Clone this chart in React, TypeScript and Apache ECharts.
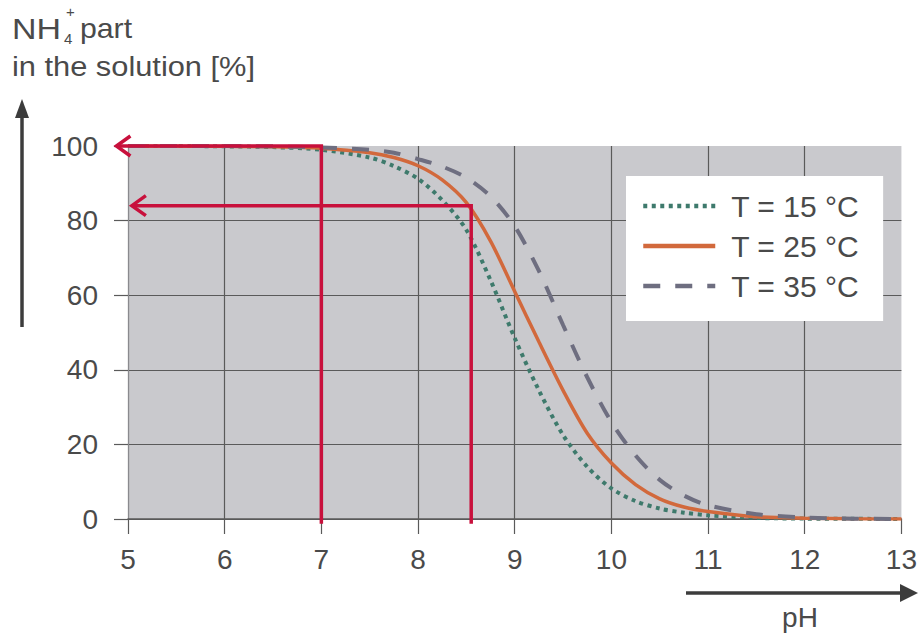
import React, { useEffect, useRef } from "react";
import * as echarts from "echarts";

// pH sample points shared by the three temperature curves
const pHValues = [5, 5.5, 6, 6.5, 7, 7.5, 7.75, 8, 8.25, 8.5, 8.75, 9, 9.25, 9.5, 9.75, 10, 10.25, 10.5, 10.75, 11, 11.5, 12, 12.5, 13];

// NH4+ share of total ammonia nitrogen [%]
const nh4At15 = [100, 100, 99.9, 99.7, 99.0, 96.9, 94.6, 91.2, 85.5, 77.5, 64, 48.5, 34.5, 22.5, 14, 8.2, 4.8, 2.8, 1.7, 1.0, 0.3, 0.1, 0.05, 0];
const nh4At25 = [100, 100, 99.9, 99.8, 99.4, 98.2, 96.9, 94.7, 90.9, 84.8, 74.5, 61, 47.5, 34.5, 23, 15, 9.2, 5.4, 3.2, 2.0, 0.6, 0.2, 0.05, 0];
const nh4At35 = [100, 100, 100, 99.9, 99.6, 99.0, 98.2, 96.5, 94.5, 91.5, 86.5, 78.5, 66.5, 52, 38, 26, 17, 10.5, 6.3, 3.7, 1.3, 0.4, 0.1, 0];

const seriesNames = ["T = 15 °C", "T = 25 °C", "T = 35 °C"];

// Read-off guides: [arrow tip pH, NH4+ level, pH of the vertical, bottom level]
const readoutGuides = [
  [4.88, 100, 7, -1.3],
  [5.04, 84, 8.55, -1.3],
];

// axis ranges and tick labels
const xTicks = [5, 6, 7, 8, 9, 10, 11, 12, 13];
const yTicks = [0, 20, 40, 60, 80, 100];

const FONT = "'Liberation Sans', Arial, Helvetica, sans-serif";
const TEXT = "#4a4a4a";
const GRID = "#5a5a5a";
const RED = "#c8103c";
const ARROW = "#3c3c3c";

const toPairs = (ys: number[]) => pHValues.map((x, i) => [x, ys[i]]);

const label = (text: string, x: number, y: number, size: number, scaleX = 1) => ({
  type: "text",
  x,
  y,
  scaleX,
  style: { text, font: `${size}px ${FONT}`, fill: TEXT, verticalAlign: "top" },
});

export default function App() {
  const ref = useRef<HTMLDivElement>(null);

  useEffect(() => {
    if (!ref.current) return;
    const chart = echarts.init(ref.current, undefined, { renderer: "svg" });

    const curve = (name: string, data: number[], color: string, type: any, width: number) => ({
      name,
      type: "line",
      data: toPairs(data),
      symbol: "none",
      smooth: 0.3,
      z: 3,
      lineStyle: { color, width, type, cap: "butt" },
      itemStyle: { color },
    });

    chart.setOption({
      animation: false,
      grid: {
        left: 128,
        top: 146,
        width: 774,
        height: 373,
        show: true,
        backgroundColor: "#c9c9cd",
        borderWidth: 0,
      },
      legend: {
        orient: "vertical",
        left: 626,
        top: 176,
        backgroundColor: "#ffffff",
        padding: [15, 24, 20, 15],
        itemWidth: 72,
        itemHeight: 20,
        itemGap: 10,
        data: seriesNames,
        itemStyle: { opacity: 0, borderWidth: 0 },
        lineStyle: { width: 4.5 },
        textStyle: { fontFamily: FONT, fontSize: 30, color: TEXT, padding: [0, 0, 0, 11] },
      },
      xAxis: {
        type: "value",
        min: xTicks[0],
        max: xTicks[xTicks.length - 1],
        interval: 1,
        axisLine: { show: true, lineStyle: { color: GRID, width: 1.5 } },
        axisTick: { show: true, inside: false, length: 15, lineStyle: { color: GRID, width: 1.2 } },
        axisLabel: { fontFamily: FONT, fontSize: 28, color: TEXT, margin: 26 },
        splitLine: { show: true, showMaxLine: false, lineStyle: { color: GRID, width: 1.2 } },
      },
      yAxis: {
        type: "value",
        min: yTicks[0],
        max: yTicks[yTicks.length - 1],
        interval: 20,
        axisLine: { show: true, lineStyle: { color: "#8a8a8e", width: 1 } },
        axisTick: { show: true, inside: false, length: 14, lineStyle: { color: GRID, width: 1.2 } },
        axisLabel: { fontFamily: FONT, fontSize: 28, color: TEXT, margin: 30 },
        splitLine: { show: true, showMaxLine: false, lineStyle: { color: GRID, width: 1.2 } },
      },
      series: [
        curve(seriesNames[0], nh4At15, "#3e7a6c", [4, 4.5], 4),
        curve(seriesNames[1], nh4At25, "#d2693c", "solid", 3.5),
        curve(seriesNames[2], nh4At35, "#6e6e80", [17, 15], 4),
        {
          type: "custom",
          name: "readout",
          clip: false,
          z: 5,
          data: readoutGuides,
          encode: { x: [0, 2], y: [1, 3] },
          renderItem: (_params: any, api: any) => {
            const tip = api.coord([api.value(0), api.value(1)]);
            const corner = api.coord([api.value(2), api.value(1)]);
            const bottom = api.coord([api.value(2), api.value(3)]);
            const style = { stroke: RED, lineWidth: 3.5, fill: null, lineJoin: "miter" };
            return {
              type: "group",
              children: [
                { type: "polyline", shape: { points: [tip, corner, bottom] }, style },
                {
                  type: "polyline",
                  shape: {
                    points: [
                      [tip[0] + 14, tip[1] - 10],
                      [tip[0], tip[1]],
                      [tip[0] + 14, tip[1] + 10],
                    ],
                  },
                  style,
                },
              ],
            };
          },
        },
      ],
      graphic: [
        // y-axis title
        label("NH", 12, 14, 29, 1.17),
        label("4", 64, 31, 15),
        label("+", 66, 4, 15),
        label("part", 80, 14, 28, 1.08),
        label("in the solution [%]", 12, 52, 28, 1.1),
        // upward arrow
        { type: "line", shape: { x1: 22, y1: 327, x2: 22, y2: 114 }, style: { stroke: ARROW, lineWidth: 3.5 } },
        { type: "polygon", shape: { points: [[22, 99], [15, 118], [29, 118]] }, style: { fill: ARROW } },
        // rightward arrow
        { type: "line", shape: { x1: 686, y1: 593, x2: 903, y2: 593 }, style: { stroke: ARROW, lineWidth: 3.5 } },
        { type: "polygon", shape: { points: [[918, 593], [900, 584], [900, 602]] }, style: { fill: ARROW } },
        // x-axis title
        {
          type: "text",
          x: 800,
          y: 617,
          style: { text: "pH", font: `28px ${FONT}`, fill: TEXT, align: "center", verticalAlign: "middle" },
        },
      ],
    });

    return () => chart.dispose();
  }, []);

  return <div ref={ref} style={{ position: "absolute", left: 0, top: 0, width: 920, height: 635 }} />;
}
